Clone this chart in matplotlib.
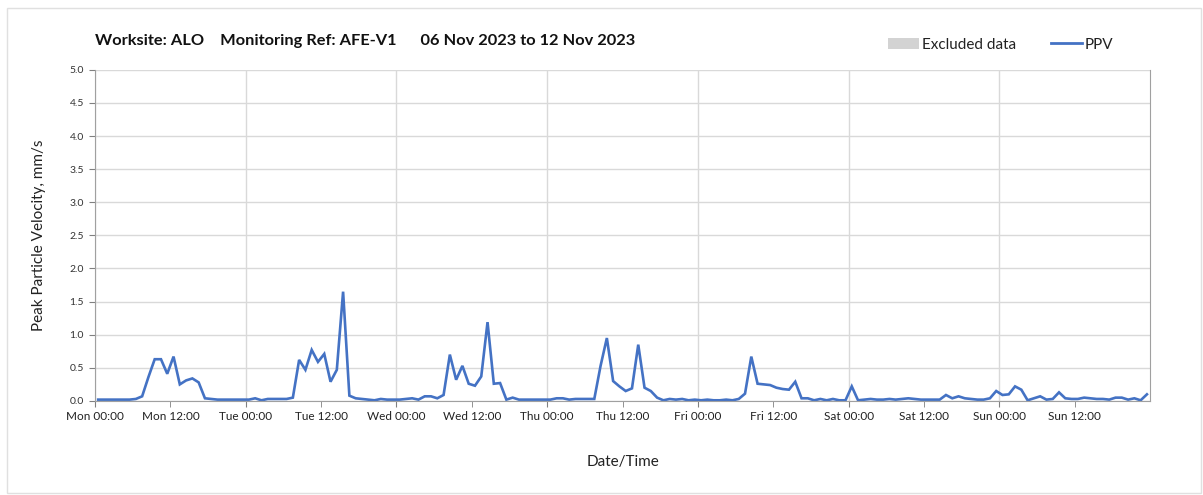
import matplotlib
matplotlib.use("Agg")
import matplotlib.pyplot as plt
from matplotlib.patches import Patch, Rectangle
from matplotlib.lines import Line2D
import numpy as np

# hourly PPV readings (mm/s), Mon 00:00 -> Sun 23:00, each plotted at mid-hour
ppv = [
    0.02, 0.02, 0.02, 0.02, 0.02, 0.02, 0.03, 0.07, 0.36, 0.63, 0.63, 0.41,   # Mon am
    0.67, 0.25, 0.31, 0.34, 0.28, 0.04, 0.03, 0.02, 0.02, 0.02, 0.02, 0.02,   # Mon pm
    0.02, 0.04, 0.01, 0.03, 0.03, 0.03, 0.03, 0.05, 0.62, 0.47, 0.77, 0.59,   # Tue am
    0.71, 0.29, 0.47, 1.65, 0.08, 0.04, 0.03, 0.02, 0.01, 0.03, 0.02, 0.02,   # Tue pm
    0.02, 0.03, 0.04, 0.02, 0.07, 0.07, 0.04, 0.09, 0.70, 0.32, 0.53, 0.26,   # Wed am
    0.23, 0.37, 1.19, 0.26, 0.27, 0.02, 0.05, 0.02, 0.02, 0.02, 0.02, 0.02,   # Wed pm
    0.02, 0.04, 0.04, 0.02, 0.03, 0.03, 0.03, 0.03, 0.53, 0.95, 0.30, 0.22,   # Thu am
    0.15, 0.19, 0.85, 0.20, 0.15, 0.05, 0.01, 0.03, 0.02, 0.03, 0.01, 0.02,   # Thu pm
    0.01, 0.02, 0.01, 0.01, 0.02, 0.01, 0.03, 0.11, 0.67, 0.26, 0.25, 0.24,   # Fri am
    0.20, 0.18, 0.17, 0.29, 0.04, 0.04, 0.01, 0.03, 0.01, 0.03, 0.01, 0.01,   # Fri pm
    0.22, 0.01, 0.02, 0.03, 0.02, 0.02, 0.03, 0.02, 0.03, 0.04, 0.03, 0.02,   # Sat am
    0.02, 0.02, 0.02, 0.09, 0.04, 0.07, 0.04, 0.03, 0.02, 0.02, 0.04, 0.15,   # Sat pm
    0.09, 0.10, 0.22, 0.17, 0.01, 0.04, 0.07, 0.02, 0.03, 0.13, 0.04, 0.03,   # Sun am
    0.03, 0.05, 0.04, 0.03, 0.03, 0.02, 0.05, 0.05, 0.02, 0.04, 0.01, 0.10,   # Sun pm
]
hours = np.arange(len(ppv)) + 0.5

days = ["Mon", "Tue", "Wed", "Thu", "Fri", "Sat", "Sun"]
major_labels = [d + " 00:00" for d in days]
minor_labels = [d + " 12:00" for d in days]

title = "Worksite: ALO    Monitoring Ref: AFE-V1      06 Nov 2023 to 12 Nov 2023"
blue = "#4472C4"
grid_c = "#d9d9d9"

plt.rcParams["font.family"] = ["Lato", "DejaVu Sans"]

fig = plt.figure(figsize=(12.03, 4.95), dpi=100)
ax = fig.add_axes([0.079, 0.19, 0.877, 0.669])

ax.plot(hours, ppv, color=blue, lw=1.9, solid_joinstyle="miter")

ax.set_xlim(0, 168)
ax.set_ylim(0, 5.0)
ax.set_yticks(np.arange(0, 5.01, 0.5))
ax.set_yticklabels([f"{v:.1f}" for v in np.arange(0, 5.01, 0.5)], fontsize=7.5, color="#333333")

ax.set_xticks(np.arange(0, 168, 24))
ax.set_xticklabels(major_labels, fontsize=8.5, color="#222222")
ax.set_xticks(np.arange(12, 168, 24), minor=True)
ax.set_xticklabels(minor_labels, minor=True, fontsize=8.5, color="#222222")
ax.tick_params(axis="x", which="both", length=4, color="#808080", pad=3)
ax.tick_params(axis="y", length=4, color="#808080", pad=4)

ax.grid(True, which="major", color=grid_c, lw=1.0)
ax.set_axisbelow(True)
for s in ["left", "bottom", "right"]:
    ax.spines[s].set_color("#a0a0a0")
ax.spines["top"].set_visible(False)

ax.set_ylabel("Peak Particle Velocity, mm/s", fontsize=11, color="#222222", labelpad=17)
ax.set_xlabel("Date/Time", fontsize=11, color="#222222", labelpad=24)

fig.text(0.079, 0.918, title, fontsize=11.8, fontweight="bold", color="#111111", va="center")

handles = [Patch(facecolor="#d3d3d3", edgecolor="none"),
           Line2D([], [], color=blue, lw=2)]
fig.legend(handles, ["Excluded data", "PPV"], loc="center left", bbox_to_anchor=(0.727, 0.91),
           ncol=2, frameon=False, fontsize=11, handlelength=2.0, handletextpad=0.2,
           columnspacing=2.3, labelcolor="#222222")

fig.patches.append(Rectangle((0.006, 0.004), 0.992, 0.98, transform=fig.transFigure,
                             fill=False, edgecolor="#e0e0e0", lw=1))

fig.savefig("out.png", dpi=100, facecolor="white")
